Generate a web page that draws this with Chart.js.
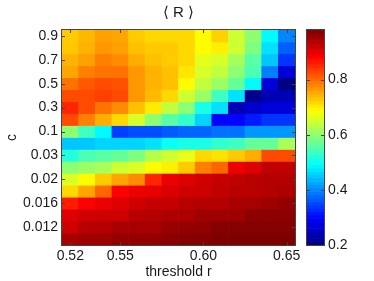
<!DOCTYPE html>
<html>
<head>
<meta charset="utf-8">
<script src="https://cdn.jsdelivr.net/npm/chart.js@4.4.0/dist/chart.umd.min.js"></script>
<style>
  html, body { margin: 0; padding: 0; background: #fff; }
  #wrap { width: 374px; height: 281px; }
</style>
</head>
<body>
<div id="wrap"><canvas id="c" width="374" height="281"></canvas></div>
<script>
// ---- data ----
const thresholds = ['0.52','0.53','0.54','0.55','0.56','0.57','0.58','0.59','0.60','0.61','0.62','0.63','0.64','0.65'];
const xTickLabels = ['0.52','0.55','0.60','0.65'];
const cValues = ['0.9','0.8','0.7','0.6','0.5','0.4','0.3','0.2','0.1','0.05','0.03','0.025','0.02','0.018','0.016','0.014','0.012','0.01'];
const yTickLabels = ['0.9','0.7','0.5','0.3','0.1','0.03','0.02','0.016','0.012'];
const colorTicks = [0.2, 0.4, 0.6, 0.8];
const colorMin = 0.2, colorMax = 0.98;

const R_c0_9   = [0.727,0.742,0.761,0.756,0.727,0.717,0.717,0.717,0.690,0.723,0.650,0.600,0.490,0.400];
const R_c0_8   = [0.730,0.746,0.766,0.760,0.736,0.727,0.727,0.717,0.690,0.700,0.650,0.590,0.470,0.370];
const R_c0_7   = [0.746,0.761,0.785,0.776,0.750,0.736,0.727,0.717,0.668,0.658,0.619,0.560,0.450,0.337];
const R_c0_6   = [0.756,0.785,0.795,0.795,0.766,0.746,0.736,0.707,0.658,0.639,0.600,0.550,0.395,0.270];
const R_c0_5   = [0.795,0.815,0.825,0.820,0.766,0.746,0.736,0.690,0.640,0.610,0.570,0.490,0.268,0.200];
const R_c0_4   = [0.825,0.825,0.834,0.825,0.766,0.740,0.717,0.650,0.610,0.540,0.470,0.210,0.240,0.240];
const R_c0_3   = [0.854,0.825,0.795,0.776,0.736,0.703,0.640,0.600,0.510,0.470,0.240,0.260,0.268,0.268];
const R_c0_2   = [0.825,0.785,0.750,0.717,0.658,0.600,0.560,0.530,0.460,0.300,0.300,0.317,0.337,0.337];
const R_c0_1   = [0.600,0.540,0.490,0.346,0.356,0.356,0.366,0.375,0.375,0.385,0.385,0.414,0.414,0.414];
const R_c0_05  = [0.450,0.450,0.460,0.460,0.460,0.470,0.500,0.510,0.510,0.530,0.540,0.570,0.570,0.620];
const R_c0_03  = [0.520,0.550,0.560,0.570,0.590,0.630,0.650,0.670,0.717,0.710,0.727,0.750,0.825,0.825];
const R_c0_025 = [0.600,0.610,0.620,0.650,0.660,0.690,0.700,0.727,0.785,0.805,0.896,0.908,0.930,0.930];
const R_c0_02  = [0.660,0.690,0.727,0.756,0.776,0.854,0.896,0.908,0.918,0.926,0.930,0.936,0.940,0.940];
const R_c0_018 = [0.717,0.756,0.805,0.883,0.896,0.900,0.910,0.920,0.920,0.930,0.936,0.936,0.940,0.944];
const R_c0_016 = [0.863,0.883,0.896,0.908,0.918,0.926,0.926,0.936,0.940,0.940,0.950,0.950,0.956,0.964];
const R_c0_014 = [0.908,0.918,0.920,0.920,0.936,0.940,0.944,0.944,0.956,0.956,0.956,0.970,0.970,0.970];
const R_c0_012 = [0.920,0.936,0.940,0.950,0.950,0.950,0.960,0.964,0.964,0.976,0.976,0.976,0.976,0.976];
const R_c0_01  = [0.950,0.956,0.956,0.964,0.964,0.964,0.970,0.976,0.976,0.980,0.980,0.980,0.980,0.980];

const rows = [R_c0_9,R_c0_8,R_c0_7,R_c0_6,R_c0_5,R_c0_4,R_c0_3,R_c0_2,R_c0_1,
              R_c0_05,R_c0_03,R_c0_025,R_c0_02,R_c0_018,R_c0_016,R_c0_014,R_c0_012,R_c0_01];

// ---- jet colormap ----
function clamp01(v){ return Math.max(0, Math.min(1, v)); }
function jet(v){
  const t = clamp01((v - colorMin) / (colorMax - colorMin));
  const r = clamp01(1.5 - Math.abs(4*t - 3));
  const g = clamp01(1.5 - Math.abs(4*t - 2));
  const b = clamp01(1.5 - Math.abs(4*t - 1));
  return 'rgb(' + Math.round(r*255) + ',' + Math.round(g*255) + ',' + Math.round(b*255) + ')';
}

const FONT = '"Liberation Sans", Arial, Helvetica, sans-serif';
const TXT = '#1a1a1a';

const datasets = rows.map((vals, i) => ({
  label: cValues[i],
  data: vals.map(() => [i, i + 1]),
  backgroundColor: vals.map(jet),
  borderWidth: 0,
  grouped: false,
  categoryPercentage: 1,
  barPercentage: 1
}));

function noPad(s) { s.paddingTop = 0; s.paddingBottom = 0; s.paddingLeft = 0; s.paddingRight = 0; }

const framePlugin = {
  id: 'frame',
  afterDatasetsDraw(chart) {
    const ctx = chart.ctx, a = chart.chartArea;
    const xs = chart.scales.x, ys = chart.scales.y, cb = chart.scales.cb;
    ctx.save();
    ctx.strokeStyle = '#444';
    ctx.lineWidth = 1;
    ctx.strokeRect(Math.round(a.left) - 0.5, Math.round(a.top) - 0.5,
                   Math.round(a.right - a.left) + 1, Math.round(a.bottom - a.top) + 1);
    // tick marks
    ctx.beginPath();
    ys.ticks.forEach(t => {
      const py = Math.round(ys.getPixelForValue(t.value)) + 0.5;
      ctx.moveTo(a.left, py); ctx.lineTo(a.left + 3, py);
      ctx.moveTo(a.right, py); ctx.lineTo(a.right - 3, py);
    });
    xTickLabels.forEach(l => {
      const px = Math.round(xs.getPixelForValue(thresholds.indexOf(l))) + 0.5;
      ctx.moveTo(px, a.bottom); ctx.lineTo(px, a.bottom - 3);
      ctx.moveTo(px, a.top); ctx.lineTo(px, a.top + 3);
    });
    ctx.stroke();

    // colorbar
    const cbL = Math.round(a.right) + 12, cbW = 17;
    const n = 64;
    for (let k = 0; k < n; k++) {
      const v0 = colorMin + (colorMax - colorMin) * k / n;
      const v1 = colorMin + (colorMax - colorMin) * (k + 1) / n;
      const y0 = cb.getPixelForValue(v0), y1 = cb.getPixelForValue(v1);
      ctx.fillStyle = jet((v0 + v1) / 2);
      ctx.fillRect(cbL, y1, cbW, y0 - y1 + 0.6);
    }
    const top = cb.getPixelForValue(colorMax), bot = cb.getPixelForValue(colorMin);
    ctx.strokeStyle = '#444';
    ctx.strokeRect(cbL - 0.5, Math.round(top) - 0.5, cbW + 1, Math.round(bot - top) + 1);
    ctx.beginPath();
    colorTicks.forEach(v => {
      const py = Math.round(cb.getPixelForValue(v)) + 0.5;
      ctx.moveTo(cbL, py); ctx.lineTo(cbL + 3, py);
      ctx.moveTo(cbL + cbW, py); ctx.lineTo(cbL + cbW - 3, py);
    });
    ctx.stroke();
    ctx.restore();
  }
};

new Chart(document.getElementById('c'), {
  type: 'bar',
  data: { labels: thresholds, datasets },
  options: {
    responsive: false,
    animation: false,
    events: [],
    layout: { padding: 0, autoPadding: false },
    plugins: {
      legend: { display: false },
      tooltip: { enabled: false },
      title: {
        display: true,
        text: '\u27E8 R \u27E9',
        color: TXT,
        fullSize: false,
        font: { family: FONT, size: 15, weight: 'normal' },
        padding: { top: 4, bottom: 8 }
      }
    },
    scales: {
      x: {
        type: 'category',
        offset: true,
        grid: { display: false, drawTicks: false },
        border: { display: false },
        ticks: {
          autoSkip: false, maxRotation: 0, padding: 3,
          color: TXT, font: { family: FONT, size: 14 },
          callback: function(v, i) { const l = thresholds[i]; return xTickLabels.includes(l) ? l : ''; }
        },
        title: { display: true, text: 'threshold r', color: TXT,
                 font: { family: FONT, size: 14 }, padding: { top: 0, bottom: 0 } },
        afterFit(s) { s.height = 36; noPad(s); }
      },
      y: {
        type: 'linear',
        reverse: true,
        min: 0, max: cValues.length,
        grid: { display: false, drawTicks: false },
        border: { display: false },
        afterBuildTicks(s) {
          s.ticks = yTickLabels.map(l => ({ value: cValues.indexOf(l) + 0.5 }));
        },
        ticks: {
          autoSkip: false, padding: 4, color: TXT, font: { family: FONT, size: 14 },
          callback: function(v) { return cValues[Math.floor(v)]; }
        },
        title: { display: true, text: 'c', color: TXT, font: { family: FONT, size: 14 } },
        afterFit(s) { s.width = 62; noPad(s); }
      },
      cb: {
        type: 'linear',
        position: 'right',
        min: colorMin, max: colorMax,
        grid: { display: false, drawTicks: false },
        border: { display: false },
        afterBuildTicks(s) { s.ticks = colorTicks.map(v => ({ value: v })); },
        ticks: {
          padding: 33, color: TXT, font: { family: FONT, size: 14 },
          callback: function(v) { return v.toFixed(1); }
        },
        afterFit(s) { s.width = 79; noPad(s); }
      }
    }
  },
  plugins: [framePlugin]
});
</script>
</body>
</html>
